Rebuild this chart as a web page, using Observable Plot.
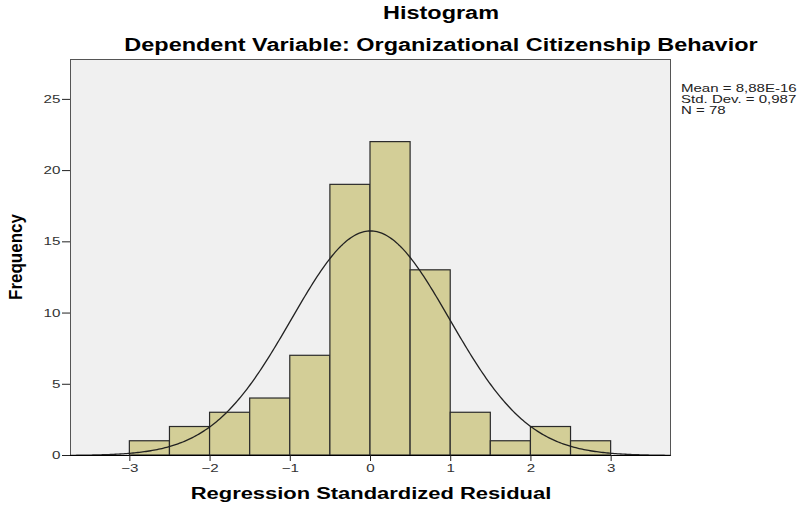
<!DOCTYPE html>
<html>
<head>
<meta charset="utf-8">
<script src="https://cdn.jsdelivr.net/npm/d3@7"></script>
<script src="https://cdn.jsdelivr.net/npm/@observablehq/plot@0.6"></script>
<style>
  html, body { margin: 0; padding: 0; background: #fff; }
  #wrap { position: relative; width: 812px; height: 507px; font-family: "Liberation Sans", Arial, sans-serif; }
  .t { position: absolute; white-space: nowrap; color: #000; line-height: 1; }
  #title { left: 441px; top: 5px; transform: translateX(-50%) scaleX(1.34); font-weight: bold; font-size: 17.5px; }
  #subtitle { left: 441px; top: 37px; transform: translateX(-50%) scaleX(1.34); font-weight: bold; font-size: 17.5px; }
  #stats { left: 681px; top: 83px; font-size: 10.5px; line-height: 11px; color: #222; transform: scaleX(1.43); transform-origin: 0 0; }
  #ylab { left: 16px; top: 257px; transform: translate(-50%, -50%) rotate(-90deg) scaleY(1.12); font-weight: bold; font-size: 17px; }
  #xlab { left: 370.5px; top: 485.5px; transform: translateX(-50%) scaleX(1.37); font-weight: bold; font-size: 16px; }
</style>
</head>
<body>
<div id="wrap">
  <div id="chart"></div>
  <div class="t" id="title">Histogram</div>
  <div class="t" id="subtitle">Dependent Variable: Organizational Citizenship Behavior</div>
  <div class="t" id="stats">Mean = 8,88E-16<br>Std. Dev. = 0,987<br>N = 78</div>
  <div class="t" id="ylab">Frequency</div>
  <div class="t" id="xlab">Regression Standardized Residual</div>
</div>
<script>
// Histogram bins (lower edges) and counts
const binStarts = [-3, -2.5, -2, -1.5, -1, -0.5, 0, 0.5, 1, 1.5, 2, 2.5];
const binWidth = 0.5;
const counts = [1, 2, 3, 4, 7, 19, 22, 13, 3, 1, 2, 1];
const xTicks = [-3, -2, -1, 0, 1, 2, 3];
const yTicks = [0, 5, 10, 15, 20, 25];
// Fitted normal curve parameters (shown in the legend)
const mean = 8.88e-16;
const stdDev = 0.987;
const N = 78;

const bins = binStarts.map((x, i) => ({x1: x, x2: x + binWidth, count: counts[i]}));

const xDomain = [-3.74, 3.74];
const curve = d3.range(xDomain[0], xDomain[1] + 1e-9, 0.02).map(x => ({
  x,
  y: N * binWidth * Math.exp(-0.5 * ((x - mean) / stdDev) ** 2) / (stdDev * Math.sqrt(2 * Math.PI))
}));

const chart = Plot.plot({
  width: 812,
  height: 507,
  marginLeft: 70,
  marginRight: 142,
  marginTop: 59,
  marginBottom: 52,
  style: {fontFamily: "'Liberation Sans', Arial, sans-serif", fontSize: "11px", background: "transparent", overflow: "visible"},
  x: {domain: xDomain, ticks: xTicks, label: null},
  y: {domain: [0, 27.8], ticks: yTicks, label: null},
  marks: [
    Plot.frame({fill: "#f0f0f0", stroke: "#555", strokeWidth: 1}),
    Plot.rectY(bins, {x1: "x1", x2: "x2", y: "count", fill: "#d3ce97", stroke: "#2a2a2a", strokeWidth: 1.2}),
    Plot.line(curve, {x: "x", y: "y", stroke: "#222", strokeWidth: 1.3, curve: "linear"}),
    Plot.ruleY([0], {stroke: "#000", strokeWidth: 1.2}),
    Plot.axisX({ticks: xTicks, tickSize: 6, tickPadding: 3, stroke: "#222", fill: "#333", label: null}),
    Plot.axisY({ticks: yTicks, tickSize: 8, tickPadding: 2, stroke: "#222", fill: "#333", label: null})
  ]
});
document.getElementById("chart").appendChild(chart);

// Widen tick label glyphs horizontally to match the stretched reference
function widen(selector, s, anchor) {
  chart.querySelectorAll(selector).forEach(t => {
    const bb = t.getBBox();
    const px = anchor === "end" ? bb.x + bb.width : bb.x + bb.width / 2;
    const py = bb.y + bb.height / 2;
    const prev = t.getAttribute("transform") || "";
    t.setAttribute("transform", `${prev} translate(${px},${py}) scale(${s},1) translate(${-px},${-py})`);
  });
}
widen('g[aria-label="x-axis tick label"] text', 1.38, "middle");
widen('g[aria-label="y-axis tick label"] text', 1.38, "end");
</script>
</body>
</html>
